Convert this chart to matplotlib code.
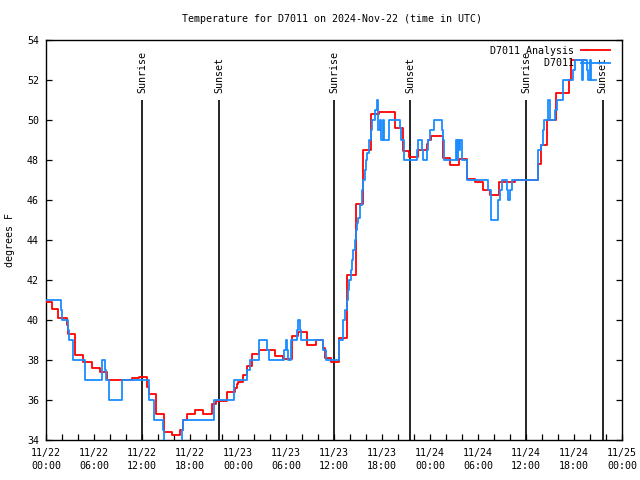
import matplotlib
matplotlib.use("Agg")
import matplotlib.pyplot as plt
import matplotlib.dates as mdates
import numpy as np
import pandas as pd

# ---------------- data ----------------
start_time = "2024-11-22 00:00"

# observations (D7011), hours since start, step values
obs_hours = [0.0, 1.84, 2.0, 2.79, 2.91, 3.41, 4.875, 6.96, 7.375, 7.5, 7.91, 9.46,
             12.91, 13.5, 14.59, 14.79, 17.04, 17.125, 21.0, 23.5, 25.16, 25.5, 26.66,
             27.59, 27.91, 29.75, 29.94, 30.16, 30.31, 30.59, 31.41, 31.56, 31.75, 31.875,
             34.66, 34.96, 36.66, 37.09, 37.16, 37.41, 37.59, 37.71, 37.91, 38.09, 38.25,
             38.41, 38.59, 38.71, 38.84, 39.04, 39.25, 39.46, 39.59, 39.84, 40.0, 40.16,
             40.41, 40.59, 40.75, 41.125, 41.34, 41.46, 41.56, 41.75, 41.875, 42.125,
             42.25, 42.84, 44.25, 44.375, 44.75, 46.41, 46.54, 47.04, 47.16, 47.59, 47.79,
             48.0, 48.5, 49.54, 49.66, 49.79, 51.21, 51.375, 51.5, 51.625, 51.75, 51.96,
             52.59, 55.29, 55.59, 56.54, 56.75, 56.96, 57.66, 57.79, 58.0, 58.21, 61.54,
             61.84, 62.09, 62.16, 62.25, 62.79, 63.0, 63.625, 63.84, 64.59, 64.66, 65.91,
             66.125, 66.96, 67.16, 67.59, 67.75, 68.0, 68.125, 68.75]
obs_temp = [41.0, 40.5, 40.0, 39.5, 39.0, 38.0, 37.0, 38.0, 37.5, 37.0, 36.0, 37.0,
            36.0, 35.0, 34.5, 33.0, 34.5, 35.0, 36.0, 37.0, 37.5, 38.0, 39.0,
            38.5, 38.0, 38.5, 39.0, 38.5, 38.0, 39.0, 39.5, 40.0, 39.5, 39.0,
            38.5, 38.0, 39.0, 39.5, 40.0, 40.5, 41.0, 41.5, 42.0, 42.5, 43.0,
            43.5, 44.0, 44.5, 44.85, 45.1, 45.75, 46.5, 47.0, 47.5, 48.0, 48.35,
            49.0, 49.5, 50.0, 50.5, 51.0, 50.5, 49.5, 50.0, 49.0, 50.0,
            49.0, 50.0, 49.6, 49.0, 48.0, 48.5, 49.0, 48.5, 48.0, 48.5, 49.0,
            49.5, 50.0, 49.5, 49.0, 48.0, 49.0, 48.0, 49.0, 48.5, 49.0, 48.0,
            47.0, 46.5, 45.0, 46.0, 46.5, 47.0, 46.5, 46.0, 46.5, 47.0, 48.5,
            48.75, 49.1, 49.5, 50.0, 51.0, 50.0, 50.5, 51.0, 51.5, 52.0, 52.5,
            53.0, 52.0, 53.0, 52.5, 52.0, 53.0, 52.0, 52.0]

# analysis (D7011 Analysis)
ana_hours = [0.0, 0.75, 1.54, 2.59, 2.79, 3.66, 4.66, 5.71, 6.75, 7.66, 10.71, 11.66,
             12.66, 12.875, 13.75, 14.75, 15.71, 16.75, 17.09, 17.66, 18.625, 19.59,
             20.71, 21.25, 22.59, 23.66, 23.84, 24.04, 24.66, 25.16, 25.71, 26.66,
             28.625, 29.625, 30.71, 31.54, 32.66, 33.75, 34.66, 34.875, 35.625, 36.625,
             37.66, 38.71, 39.66, 40.625, 41.66, 43.625, 44.66, 45.41, 46.54, 47.59,
             47.79, 48.09, 49.66, 50.5, 51.66, 52.59, 53.625, 54.59, 55.5, 56.625,
             58.625, 61.54, 61.84, 62.59, 63.75, 65.41, 65.59, 67.375]
ana_temp = [40.9, 40.55, 40.1, 39.75, 39.3, 38.25, 37.9, 37.6, 37.4, 37.0, 37.1, 37.15,
            36.67, 36.3, 35.3, 34.4, 34.25, 34.5, 35.0, 35.3, 35.5, 35.3,
            35.8, 35.97, 36.4, 36.6, 36.8, 36.9, 37.25, 37.7, 38.3, 38.5,
            38.2, 38.05, 39.2, 39.4, 38.75, 39.0, 38.6, 38.1, 37.9, 39.1,
            42.25, 45.8, 48.5, 50.3, 50.4, 49.6, 48.47, 48.17, 48.5, 48.8,
            49.0, 49.2, 48.1, 47.75, 48.05, 47.05, 46.9, 46.5, 46.25, 46.9,
            47.0, 47.8, 48.75, 50.0, 51.35, 52.0, 53.0, 53.0]

sun_hours = [12.0, 21.67, 36.0, 45.55, 60.0, 69.6]
sun_labels = ["Sunrise", "Sunset", "Sunrise", "Sunset", "Sunrise", "Sunset"]
sun_line_top = 51.0

series_labels = ["D7011 Analysis", "D7011"]
title = "Temperature for D7011 on 2024-Nov-22 (time in UTC)"
ylabel = "degrees F"
y_ticks = list(range(34, 55, 2))

# ---------------- plot ----------------
FONT = "DejaVu Sans Mono"
FS = 7.2
plt.rcParams["font.family"] = [FONT]

t0 = pd.Timestamp(start_time)
def to_time(h):
    return t0 + pd.to_timedelta(np.asarray(h, dtype=float), unit="h")

fig = plt.figure(figsize=(6.4, 4.8), dpi=100)
ax = fig.add_axes([46 / 640, 40 / 480, 576 / 640, 400 / 480])

red = "#ff0000"
blue = "#1a8cff"

width = max(len(s) for s in series_labels)
ax.step(to_time(ana_hours), ana_temp, where="post", color=red, lw=1.3,
        label=series_labels[0].rjust(width), zorder=3)
ax.step(to_time(obs_hours), obs_temp, where="post", color=blue, lw=1.3,
        label=series_labels[1].rjust(width), zorder=4)

sun_times = to_time(sun_hours)
ax.vlines(sun_times, 34, sun_line_top, color="black", lw=1.2, zorder=2)
for st, lab in zip(sun_times, sun_labels):
    ax.text(st, sun_line_top + 0.33, lab, rotation=90, ha="center", va="bottom",
            fontsize=FS, family=FONT, zorder=5)

ax.set_xlim(to_time(0), to_time(72))
ax.set_ylim(34, 54)
ax.set_yticks(y_ticks)
ax.xaxis.set_major_locator(mdates.HourLocator(byhour=range(0, 24, 6)))
ax.xaxis.set_minor_locator(mdates.HourLocator(byhour=range(0, 24, 2)))
ax.xaxis.set_major_formatter(mdates.DateFormatter("%m/%d\n%H:%M"))
ax.tick_params(axis="both", which="both", direction="in", labelsize=FS, width=0.9)
ax.tick_params(axis="x", which="both", length=4, pad=6, top=False)
ax.tick_params(axis="y", which="both", length=4, pad=5, right=True)
for lbl in ax.get_xticklabels():
    lbl.set_multialignment("left")
    lbl.set_linespacing(1.35)
for sp in ax.spines.values():
    sp.set_linewidth(1.0)

leg = ax.legend(loc="upper right", bbox_to_anchor=(1 - 12 / 576, 1 - 6 / 400),
                frameon=False, markerfirst=False, fontsize=FS, handlelength=2.9,
                handletextpad=0.7, borderpad=0, borderaxespad=0, labelspacing=0.25,
                prop={"family": FONT, "size": FS})
leg.set_zorder(6)

fig.text(332 / 640, 1 - 19 / 480, title, ha="center", va="center", fontsize=FS)
fig.text(10 / 640, 0.5, ylabel, ha="center", va="center", rotation=90, fontsize=FS)

fig.savefig("out.png", dpi=100)
